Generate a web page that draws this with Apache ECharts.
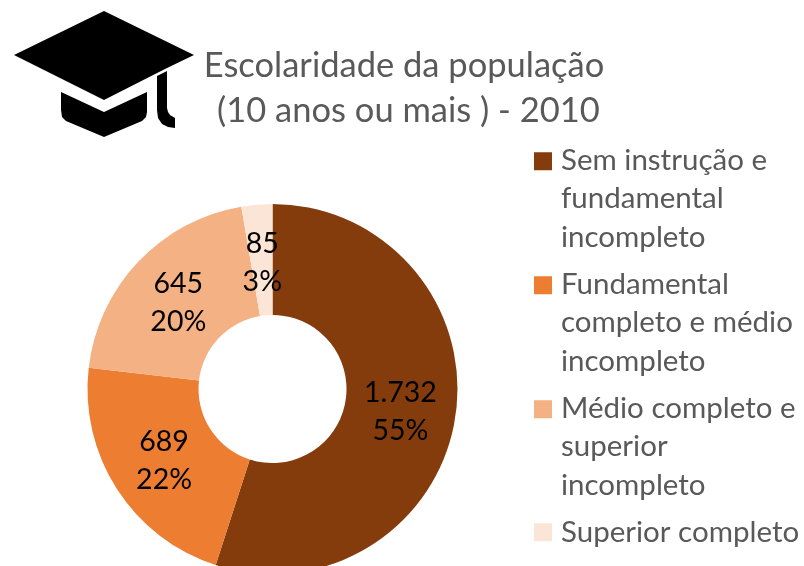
<!DOCTYPE html>
<html><head><meta charset="utf-8">
<style>html,body{margin:0;padding:0;background:#fff}#c{width:804px;height:566px}</style>
<script src="https://cdn.jsdelivr.net/npm/echarts@6/dist/echarts.min.js"></script>
</head><body><div id="c"></div>
<script>
const titleText = 'Escolaridade da população\n (10 anos ou mais ) - 2010';
const categories = [
  'Sem instrução e\nfundamental\nincompleto',
  'Fundamental\ncompleto e médio\nincompleto',
  'Médio completo e\nsuperior\nincompleto',
  'Superior completo'
];
const values = [1732, 689, 645, 85];
const valueLabels = ['1.732', '689', '645', '85'];
const percentLabels = ['55%', '22%', '20%', '3%'];
const colors = ['#843C0C', '#ED7D31', '#F4B183', '#FBE5D6'];
const legendTops = [141, 265, 389, 513];
const labelOffsets = [[-3, 2], [3, 0], [2, 5], [1, 6]];
const FONT = 'Lato, Carlito, sans-serif';

// Swatch placed inside a larger invisible box: it sits on the first text line, and the box sets the text gap.
const tallIcon = 'path://M0 0H0.01V0.01H0Z M0 11H18V29H0Z M22 115H22.01V115.01H22Z';
const shortIcon = 'path://M0 0H18V18H0Z M22 18H22.01V18.01H22Z';
const chart = echarts.init(document.getElementById('c'), null, {renderer: 'canvas'});
chart.setOption({
  animation: false,
  backgroundColor: '#fff',
  title: {
    text: titleText, left: 399, top: 38, textAlign: 'center',
    textStyle: {fontFamily: FONT, fontSize: 34.5, fontWeight: 'normal', color: '#595959', lineHeight: 45}
  },
  legend: categories.map((c, i) => {
    const multi = c.includes('\n');
    return {
      data: [{name: c, icon: multi ? tallIcon : shortIcon}],
      left: 534, top: legendTops[i], padding: 0,
      orient: 'vertical',
      itemWidth: 22, itemHeight: multi ? 115 : 18, itemGap: 0,
      itemStyle: {borderWidth: 0},
      selectedMode: false,
      textStyle: {fontFamily: FONT, fontSize: 29.5, color: '#595959', lineHeight: 38.5}
    };
  }),
  series: [{
    type: 'pie',
    center: [272.5, 389],
    radius: [74, 185],
    startAngle: 90,
    clockwise: true,
    silent: true,
    data: categories.map((c, i) => ({
      name: c, value: values[i],
      itemStyle: {color: colors[i]},
      label: {offset: labelOffsets[i]}
    })),
    label: {
      position: 'inside',
      formatter: p => valueLabels[p.dataIndex] + '\n' + percentLabels[p.dataIndex],
      fontFamily: FONT, fontSize: 28.5, color: '#000', lineHeight: 38
    },
    labelLine: {show: false}
  }],
  graphic: [
    {type: 'polygon', shape: {points: [[104, 11], [194, 55], [165, 69], [104, 100], [14, 55]]}, style: {fill: '#000'}},
    {type: 'polygon', shape: {points: [[157, 76], [167, 71], [167, 108], [168, 112], [170, 115], [175, 118], [175, 128], [168, 127], [162, 124], [158, 118], [157, 110]]}, style: {fill: '#000'}},
    {type: 'polygon', shape: {points: [[61, 92], [104, 112], [147, 92], [147, 112], [146, 117], [142, 121], [104, 137], [66, 121], [62, 117], [61, 110]]}, style: {fill: '#000'}}
  ]
});
</script></body></html>
